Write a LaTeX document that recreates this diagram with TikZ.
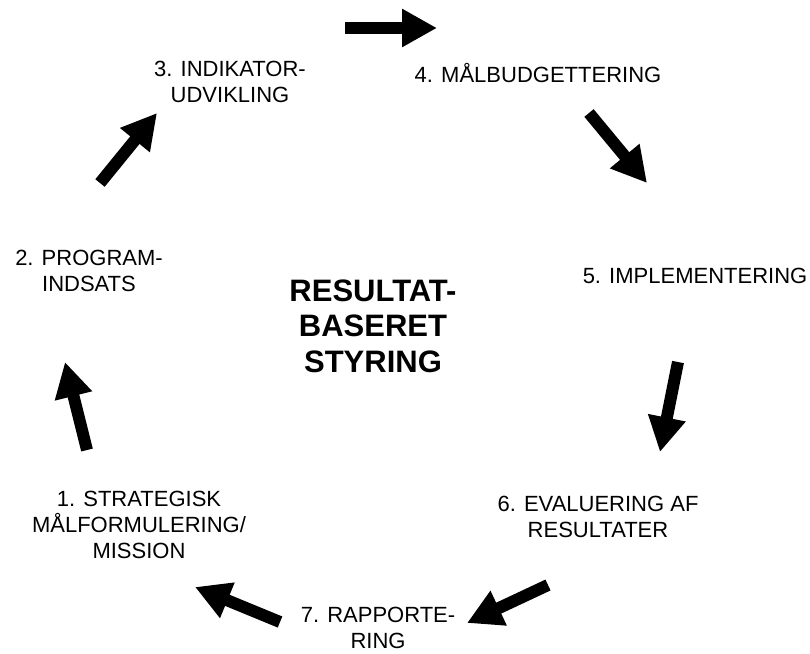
\documentclass[tikz,border=0pt]{standalone}
\usepackage{fontspec}
\setmainfont{Liberation Sans}
\usetikzlibrary{arrows.meta}
\tikzset{
  lbl/.style={align=center, inner sep=0pt, font=\fontsize{22}{26}\selectfont},
  ttl/.style={align=center, inner sep=0pt, font=\fontsize{31}{35.5}\selectfont\bfseries},
  blk/.style={line width=12pt, -{Triangle[length=35pt,width=36pt]}}
}
\begin{document}
\begin{tikzpicture}[x=1pt,y=-1pt]
\useasboundingbox[fill=white] (0,0) rectangle (810,653);
% labels
\node[lbl] (n3) at (230,82) {3. INDIKATOR-\\UDVIKLING};
\node[lbl, anchor=base] (n4) at (538,82) {4. MÅLBUDGETTERING};
\node[lbl] (n2) at (89,271) {2. PROGRAM-\\INDSATS};
\node[lbl, anchor=base] (n5) at (695,283) {5. IMPLEMENTERING};
\node[lbl] (n1) at (139,525) {1. STRATEGISK\\MÅLFORMULERING/\\MISSION};
\node[lbl] (n6) at (598,517) {6. EVALUERING AF\\RESULTATER};
\node[lbl] (n7) at (378,628) {7. RAPPORTE-\\RING};
\node[ttl] (t) at (373,326) {RESULTAT-\\BASERET\\STYRING};
% arrows
\coordinate (a1s) at (345,28); \coordinate (a1e) at (437,28);
\coordinate (a2s) at (589,113); \coordinate (a2e) at (647,183);
\coordinate (a3s) at (678,362); \coordinate (a3e) at (660,452);
\coordinate (a4s) at (548,585); \coordinate (a4e) at (467,623);
\coordinate (a5s) at (280,622); \coordinate (a5e) at (195,587);
\coordinate (a6s) at (87,450); \coordinate (a6e) at (65,362);
\coordinate (a7s) at (100,183); \coordinate (a7e) at (157,113);
\foreach \i in {1,...,7} { \draw[blk] (a\i s) -- (a\i e); }
\end{tikzpicture}
\end{document}
